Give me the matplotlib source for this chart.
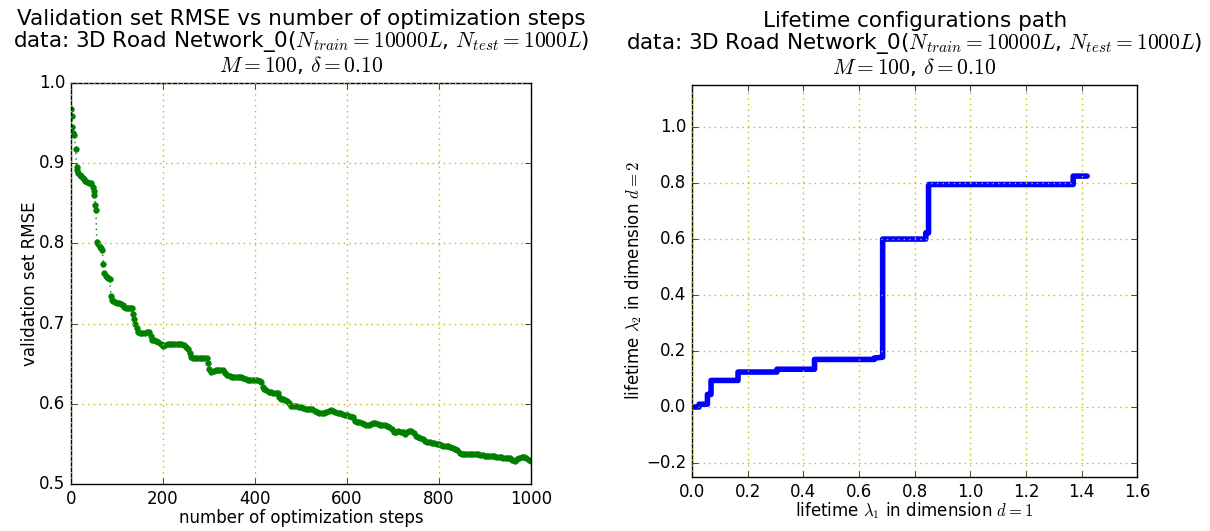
import numpy as np
import matplotlib
matplotlib.use('Agg')
import matplotlib.pyplot as plt

# validation RMSE recorded along the optimization run
steps = [0, 2, 3, 5, 7, 10, 12, 14, 16, 19, 22, 25, 28, 31, 35, 40, 44, 47, 49, 51,
         53, 54, 56, 59, 62, 65, 68, 70, 72, 75, 78, 81, 84, 87, 89, 92, 96, 100, 104, 108,
         112, 116, 120, 124, 128, 132, 134, 137, 140, 143, 146, 150, 155, 160, 165, 170, 174, 177, 180, 185,
         190, 195, 200, 205, 210, 215, 220, 225, 230, 235, 240, 245, 250, 255, 259, 261, 265, 270, 275, 280,
         285, 290, 295, 298, 301, 305, 310, 315, 320, 325, 330, 335, 340, 345, 350, 355, 360, 365, 370, 375,
         380, 385, 390, 395, 400, 405, 410, 414, 417, 420, 425, 430, 435, 440, 445, 450, 453, 456, 460, 465,
         470, 475, 479, 485, 490, 495, 500, 505, 510, 515, 520, 525, 530, 535, 540, 545, 550, 555, 560, 565,
         570, 575, 580, 585, 590, 595, 600, 605, 610, 614, 617, 622, 627, 632, 637, 642, 647, 652, 657, 662,
         667, 672, 677, 682, 687, 692, 697, 702, 707, 712, 717, 722, 726, 730, 735, 740, 745, 750, 755, 760,
         765, 770, 775, 780, 785, 790, 795, 800, 805, 810, 815, 820, 825, 830, 835, 840, 845, 850, 855, 860,
         865, 870, 875, 880, 885, 890, 895, 900, 905, 910, 915, 920, 925, 930, 935, 940, 945, 950, 955, 960,
         965, 970, 975, 980, 985, 990, 995, 1000]
rmse = [0.968, 0.959, 0.945, 0.938, 0.935, 0.918, 0.895, 0.891, 0.888, 0.886, 0.884, 0.882, 0.880, 0.878, 0.877, 0.876, 0.875, 0.870, 0.866, 0.860,
        0.848, 0.842, 0.802, 0.799, 0.796, 0.794, 0.792, 0.775, 0.763, 0.760, 0.758, 0.757, 0.756, 0.734, 0.730, 0.728, 0.727, 0.726, 0.726, 0.725,
        0.723, 0.721, 0.720, 0.720, 0.720, 0.719, 0.712, 0.706, 0.700, 0.695, 0.689, 0.688, 0.688, 0.688, 0.689, 0.689, 0.684, 0.680, 0.679, 0.678,
        0.677, 0.674, 0.672, 0.673, 0.674, 0.674, 0.675, 0.675, 0.675, 0.675, 0.674, 0.673, 0.671, 0.668, 0.664, 0.658, 0.657, 0.657, 0.657, 0.657,
        0.657, 0.657, 0.657, 0.651, 0.643, 0.640, 0.641, 0.642, 0.642, 0.642, 0.642, 0.638, 0.636, 0.635, 0.634, 0.633, 0.634, 0.634, 0.633, 0.632,
        0.631, 0.630, 0.630, 0.630, 0.630, 0.630, 0.629, 0.627, 0.621, 0.619, 0.617, 0.615, 0.615, 0.614, 0.614, 0.614, 0.609, 0.606, 0.606, 0.605,
        0.604, 0.601, 0.597, 0.597, 0.597, 0.596, 0.596, 0.595, 0.594, 0.594, 0.593, 0.593, 0.591, 0.590, 0.589, 0.588, 0.589, 0.590, 0.591, 0.592,
        0.591, 0.590, 0.589, 0.588, 0.587, 0.586, 0.586, 0.585, 0.584, 0.584, 0.578, 0.577, 0.577, 0.576, 0.575, 0.574, 0.574, 0.575, 0.576, 0.576,
        0.575, 0.574, 0.574, 0.573, 0.572, 0.571, 0.569, 0.565, 0.565, 0.566, 0.565, 0.565, 0.562, 0.565, 0.566, 0.566, 0.564, 0.560, 0.559, 0.557,
        0.556, 0.554, 0.553, 0.552, 0.551, 0.551, 0.550, 0.550, 0.549, 0.548, 0.548, 0.547, 0.546, 0.545, 0.544, 0.543, 0.539, 0.538, 0.538, 0.538,
        0.538, 0.538, 0.538, 0.537, 0.537, 0.536, 0.536, 0.535, 0.535, 0.535, 0.535, 0.535, 0.534, 0.534, 0.534, 0.533, 0.532, 0.533, 0.532, 0.530,
        0.529, 0.531, 0.532, 0.534, 0.534, 0.532, 0.530, 0.529]

# corners of the lifetime path (lambda_1, lambda_2)
lambda_1 = [0.000, 0.025, 0.025, 0.055, 0.055, 0.068, 0.068, 0.165, 0.165, 0.305, 0.305, 0.440,
            0.440, 0.655, 0.655, 0.685, 0.685, 0.840, 0.840, 0.850, 0.850, 1.370, 1.370, 1.420]
lambda_2 = [0.000, 0.000, 0.010, 0.010, 0.045, 0.045, 0.095, 0.095, 0.125, 0.125, 0.135, 0.135,
            0.170, 0.170, 0.175, 0.178, 0.600, 0.600, 0.622, 0.622, 0.795, 0.795, 0.825, 0.825]

plt.style.use('classic')
plt.rcParams['figure.facecolor'] = 'white'
plt.rcParams['savefig.facecolor'] = 'white'
plt.rcParams['mathtext.fontset'] = 'cm'

subtitle = ('data: 3D Road Network_0($N_{train}=10000L$, $N_{test}=1000L$)\n'
            '$M=100$, $\\delta=0.10$')
title_kw = dict(fontsize=15.5, linespacing=1.0, pad=8)

fig = plt.figure(figsize=(12.1, 5.31), dpi=100)

ax1 = fig.add_axes([0.0587, 0.0885, 0.380, 0.755])
ax1.plot(steps, rmse, color='g', linestyle=':', linewidth=1,
         marker='o', markersize=4, markeredgecolor='g', markeredgewidth=0.5)
ax1.set_xlim(0, 1000)
ax1.set_ylim(0.5, 1.0)
ax1.set_xticks(np.arange(0, 1001, 200))
ax1.set_yticks(np.arange(0.5, 1.01, 0.1))
ax1.grid(True, color='y', linestyle=':', linewidth=1)
ax1.set_xlabel('number of optimization steps', fontsize=12, labelpad=1)
ax1.set_ylabel('validation set RMSE', fontsize=12, labelpad=0)
ax1.set_title('Validation set RMSE vs number of optimization steps\n' + subtitle, **title_kw)

ax2 = fig.add_axes([0.572, 0.1017, 0.3678, 0.738])
ax2.plot(lambda_1, lambda_2, color='b', linewidth=4, solid_joinstyle='round',
         solid_capstyle='round')
ax2.set_xlim(0, 1.6)
ax2.set_ylim(-0.25, 1.15)
ax2.set_xticks(np.arange(0, 1.61, 0.2))
ax2.set_yticks(np.arange(-0.2, 1.01, 0.2))
ax2.grid(True, color='y', linestyle=':', linewidth=1)
ax2.set_xlabel('lifetime $\\lambda_1$ in dimension $d=1$', fontsize=12, labelpad=0)
ax2.set_ylabel('lifetime $\\lambda_2$ in dimension $d=2$', fontsize=12, labelpad=2)
ax2.set_title('Lifetime configurations path\n' + subtitle, **title_kw)

fig.savefig('out.png', dpi=100)
